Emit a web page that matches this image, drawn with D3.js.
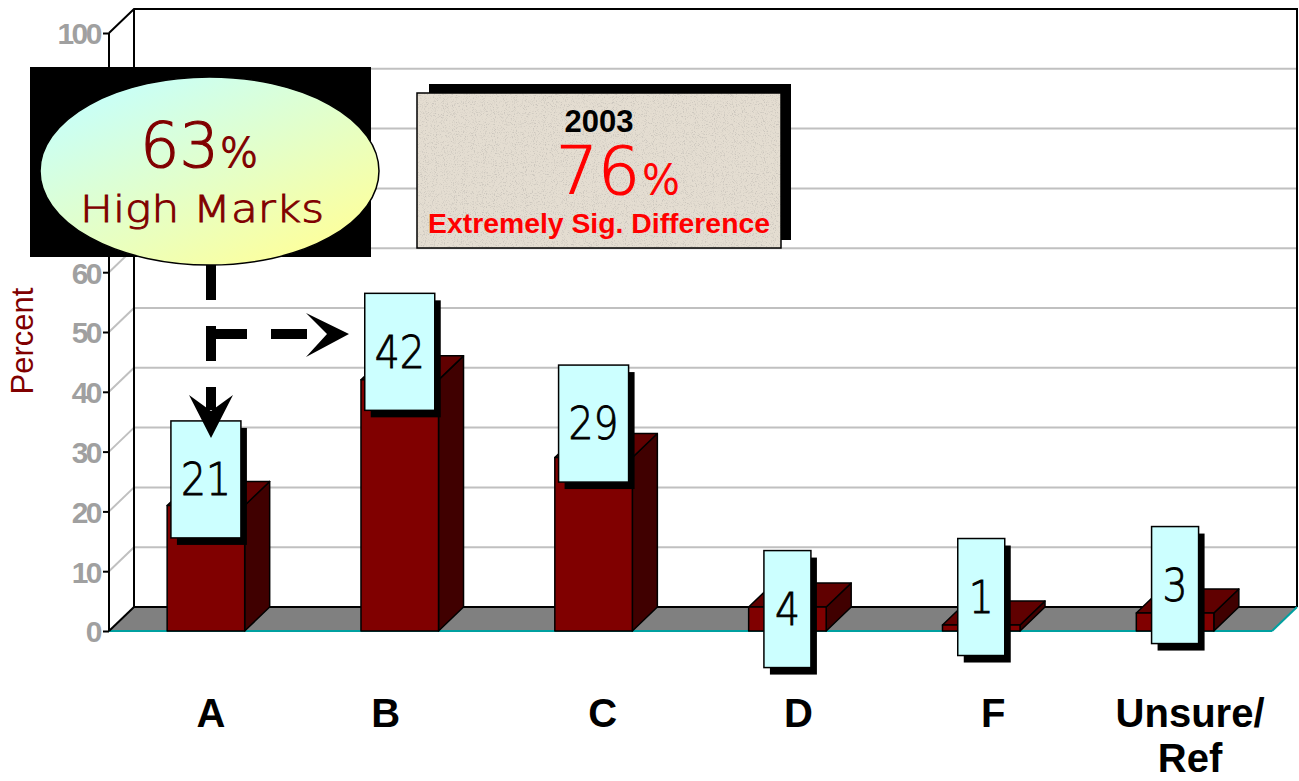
<!DOCTYPE html>
<html><head><meta charset="utf-8">
<script src="https://cdn.jsdelivr.net/npm/d3@7"></script>
<style>html,body{margin:0;padding:0;background:#fff;}svg{display:block;}</style>
</head><body>
<svg id="chart" width="1299" height="781"></svg>
<script>
// ---- data ----
const categories = ["A", "B", "C", "D", "F", "Unsure/Ref"];
const categoryLines = [["A"], ["B"], ["C"], ["D"], ["F"], ["Unsure/", "Ref"]];
const values = [21, 42, 29, 4, 1, 3];
const yTicks = [0, 10, 20, 30, 40, 50, 60, 70, 80, 90, 100];
const hiddenTickLabels = [70, 80, 90]; // covered by the callout in the original
const yTitle = "Percent";
const calloutHigh = { value: "63", unit: "%", text: "High Marks" };
const callout2003 = { year: "2003", value: "76", unit: "%", text: "Extremely Sig. Difference" };
// layout nudges (pixels) for the labels only
const labelNudgeX = [5, -14, 9, 11, 12, 15];
const valueBoxDy = [-26, -28, -34, 2, -28, -28];

// ---- geometry ----
const svg = d3.select("#chart");
const DX = 25, DY = -24;
const y = d3.scaleLinear().domain([0, 100]).range([631, 33]);
const x = d3.scaleBand().domain(categories).range([109, 1272]).paddingInner(0.6).paddingOuter(0.3);
const bw = x.bandwidth();
const y0 = y(0);
const xL = x.range()[0], xR = x.range()[1];

const defs = svg.append("defs");
const grad = defs.append("linearGradient").attr("id", "ellGrad")
  .attr("x1", "15%").attr("y1", "10%").attr("x2", "85%").attr("y2", "95%");
grad.append("stop").attr("offset", "0%").attr("stop-color", "#c8fff8");
grad.append("stop").attr("offset", "100%").attr("stop-color", "#ffff99");
const noise = defs.append("filter").attr("id", "noise").attr("x", 0).attr("y", 0).attr("width", "100%").attr("height", "100%");
noise.append("feTurbulence").attr("type", "fractalNoise").attr("baseFrequency", 0.9).attr("numOctaves", 2).attr("seed", 4).attr("result", "t");
noise.append("feColorMatrix").attr("in", "t").attr("type", "matrix")
  .attr("values", "0 0 0 0 0.45  0 0 0 0 0.43  0 0 0 0 0.40  4 0 0 0 -2.1");

// back wall
svg.append("rect").attr("x", xL + DX).attr("y", y(100) + DY)
  .attr("width", xR - xL).attr("height", y0 - y(100))
  .attr("fill", "#fff");

// gridlines
const grid = svg.append("g");
yTicks.filter(t => t > 0 && t < 100).forEach(t => {
  grid.append("line").attr("x1", xL).attr("y1", y(t)).attr("x2", xL + DX).attr("y2", y(t) + DY)
    .attr("stroke", "#c0c0c0").attr("stroke-width", 2);
  grid.append("line").attr("x1", xL + DX).attr("y1", y(t) + DY).attr("x2", xR + DX).attr("y2", y(t) + DY)
    .attr("stroke", "#c0c0c0").attr("stroke-width", 2);
});

// wall outlines
svg.append("path")
  .attr("d", `M${xL},${y(100)} L${xL + DX},${y(100) + DY} L${xR + DX},${y(100) + DY} L${xR + DX},${y0 + DY}`)
  .attr("fill", "none").attr("stroke", "#000").attr("stroke-width", 2);
svg.append("line").attr("x1", xL + DX).attr("y1", y(100) + DY).attr("x2", xL + DX).attr("y2", y0 + DY)
  .attr("stroke", "#000").attr("stroke-width", 2);

// floor
svg.append("polygon")
  .attr("points", [[xL, y0], [xL + DX, y0 + DY], [xR + DX, y0 + DY], [xR, y0]].map(p => p.join(",")).join(" "))
  .attr("fill", "#808080");
svg.append("line").attr("x1", xL + DX).attr("y1", y0 + DY).attr("x2", xR + DX).attr("y2", y0 + DY)
  .attr("stroke", "#000").attr("stroke-width", 2);
svg.append("line").attr("x1", xL).attr("y1", y0).attr("x2", xR).attr("y2", y0)
  .attr("stroke", "#00a0a0").attr("stroke-width", 2);
svg.append("line").attr("x1", xR).attr("y1", y0).attr("x2", xR + DX).attr("y2", y0 + DY)
  .attr("stroke", "#00a0a0").attr("stroke-width", 2);
svg.append("line").attr("x1", xL).attr("y1", y0).attr("x2", xL + DX).attr("y2", y0 + DY)
  .attr("stroke", "#000").attr("stroke-width", 2);

// front axis
svg.append("line").attr("x1", xL).attr("y1", y0).attr("x2", xL).attr("y2", y(100))
  .attr("stroke", "#000").attr("stroke-width", 2);
const yAxis = d3.axisLeft(y).tickValues(yTicks).tickSize(6).tickPadding(3)
  .tickFormat(d => hiddenTickLabels.includes(d) ? "" : d3.format("d")(d));
const ag = svg.append("g").attr("transform", `translate(${xL},0)`).call(yAxis);
ag.select(".domain").remove();
ag.selectAll(".tick line").attr("stroke", "#000").attr("stroke-width", 2);
ag.selectAll(".tick text").attr("fill", "#a0a0a0")
  .style("font-family", "'Liberation Sans', Arial, sans-serif").style("font-size", "30px")
  .style("font-weight", "bold").style("letter-spacing", "-2.5px").attr("dy", "0.36em");

// y title
svg.append("text").attr("transform", "translate(33,341) rotate(-90)")
  .attr("text-anchor", "middle").attr("fill", "#800000")
  .style("font-family", "'Liberation Sans', Arial, sans-serif").style("font-size", "31px")
  .text(yTitle);

// bars
const bars = svg.append("g");
categories.forEach((c, i) => {
  const bx = x(c), yt = y(values[i]);
  const g = bars.append("g").attr("stroke", "#000").attr("stroke-width", 1.5).attr("stroke-linejoin", "round");
  g.append("polygon").attr("points", [[bx + bw, yt], [bx + bw + DX, yt + DY], [bx + bw + DX, y0 + DY], [bx + bw, y0]].map(p => p.join(",")).join(" "))
    .attr("fill", "#400000");
  g.append("polygon").attr("points", [[bx, yt], [bx + DX, yt + DY], [bx + bw + DX, yt + DY], [bx + bw, yt]].map(p => p.join(",")).join(" "))
    .attr("fill", "#600000");
  g.append("rect").attr("x", bx).attr("y", yt).attr("width", bw).attr("height", y0 - yt).attr("fill", "#800000");
});

// value boxes
const vb = svg.append("g");
categories.forEach((c, i) => {
  const cx = x(c) + bw / 2;
  const cy = y(values[i]) + valueBoxDy[i];
  const txt = String(values[i]);
  const w = 24 + 23 * txt.length, h = 117;
  vb.append("rect").attr("x", cx - w / 2 + 6).attr("y", cy - h / 2 + 7).attr("width", w).attr("height", h).attr("fill", "#000");
  vb.append("rect").attr("x", cx - w / 2).attr("y", cy - h / 2).attr("width", w).attr("height", h)
    .attr("fill", "#ccffff").attr("stroke", "#000").attr("stroke-width", 1.5);
  vb.append("text").attr("x", cx).attr("y", cy).attr("dy", "0.36em").attr("text-anchor", "middle")
    .style("font-family", "'DejaVu Sans', sans-serif").style("font-weight", 200)
    .style("font-size", "44px").attr("fill", "#000").attr("stroke", "#000").attr("stroke-width", 0.9)
    .attr("textLength", 25 * txt.length).attr("lengthAdjust", "spacingAndGlyphs")
    .text(txt);
});

// category labels
categories.forEach((c, i) => {
  const t = svg.append("text").attr("text-anchor", "middle")
    .style("font-family", "'Liberation Sans', Arial, sans-serif").style("font-size", "40px").style("font-weight", "bold");
  categoryLines[i].forEach((line, k) => {
    t.append("tspan").attr("x", x(c) + bw / 2 + labelNudgeX[i]).attr("y", 727 + k * 45).text(line);
  });
});

// "63% High Marks" callout
svg.append("rect").attr("x", 30).attr("y", 67).attr("width", 341).attr("height", 190).attr("fill", "#000");
svg.append("ellipse").attr("cx", 209.5).attr("cy", 171).attr("rx", 169.5).attr("ry", 94)
  .attr("fill", "url(#ellGrad)").attr("stroke", "#000").attr("stroke-width", 1.5);
const t63 = svg.append("text").attr("x", 140).attr("y", 167).attr("fill", "#800000")
  .attr("stroke", "#800000").attr("stroke-width", 1.2)
  .style("font-family", "'DejaVu Sans', sans-serif").style("font-weight", 200);
t63.append("tspan").style("font-size", "62px").text(calloutHigh.value);
t63.append("tspan").attr("dx", 1).style("font-size", "40px").text(calloutHigh.unit);
svg.append("text").attr("x", 80).attr("y", 222).attr("fill", "#800000")
  .attr("stroke", "#800000").attr("stroke-width", 0.9)
  .attr("textLength", 244).attr("lengthAdjust", "spacingAndGlyphs")
  .style("font-family", "'DejaVu Sans', sans-serif").style("font-weight", 200).style("font-size", "38px")
  .text(calloutHigh.text);

// dashed arrows
const arrows = svg.append("g");
arrows.append("line").attr("x1", 211).attr("y1", 265).attr("x2", 211).attr("y2", 410)
  .attr("stroke", "#000").attr("stroke-width", 10).attr("stroke-dasharray", "35,26");
arrows.append("polygon").attr("points", "211,438 189,395 211,411 233,395").attr("fill", "#000");
arrows.append("line").attr("x1", 211).attr("y1", 334).attr("x2", 310).attr("y2", 334)
  .attr("stroke", "#000").attr("stroke-width", 10).attr("stroke-dasharray", "36,24");
arrows.append("polygon").attr("points", "349,334 306,313 327,334 306,357").attr("fill", "#000");

// 2003 box
svg.append("rect").attr("x", 429).attr("y", 84).attr("width", 362).attr("height", 156).attr("fill", "#000");
svg.append("rect").attr("x", 417).attr("y", 93).attr("width", 364).attr("height", 155).attr("fill", "#e4ddd1");
svg.append("rect").attr("x", 417).attr("y", 93).attr("width", 364).attr("height", 155)
  .attr("fill", "#fff").attr("filter", "url(#noise)").attr("opacity", 0.5);
svg.append("rect").attr("x", 417).attr("y", 93).attr("width", 364).attr("height", 155)
  .attr("fill", "none").attr("stroke", "#000").attr("stroke-width", 1.5);
svg.append("text").attr("x", 599).attr("y", 132).attr("text-anchor", "middle")
  .style("font-family", "'Liberation Sans', Arial, sans-serif").style("font-size", "31px").style("font-weight", "bold")
  .text(callout2003.year);
const t76 = svg.append("text").attr("x", 556).attr("y", 194).attr("fill", "#ff0000")
  .attr("stroke", "#ff0000").attr("stroke-width", 1.2)
  .style("font-family", "'DejaVu Sans', sans-serif").style("font-weight", 200);
t76.append("tspan").style("font-size", "66px").text(callout2003.value);
t76.append("tspan").attr("dx", 2).style("font-size", "40px").text(callout2003.unit);
svg.append("text").attr("x", 428).attr("y", 233).attr("fill", "#ff0000")
  .attr("textLength", 342).attr("lengthAdjust", "spacingAndGlyphs")
  .style("font-family", "'Liberation Sans', Arial, sans-serif").style("font-size", "27px").style("font-weight", "bold")
  .text(callout2003.text);
</script>
</body></html>
